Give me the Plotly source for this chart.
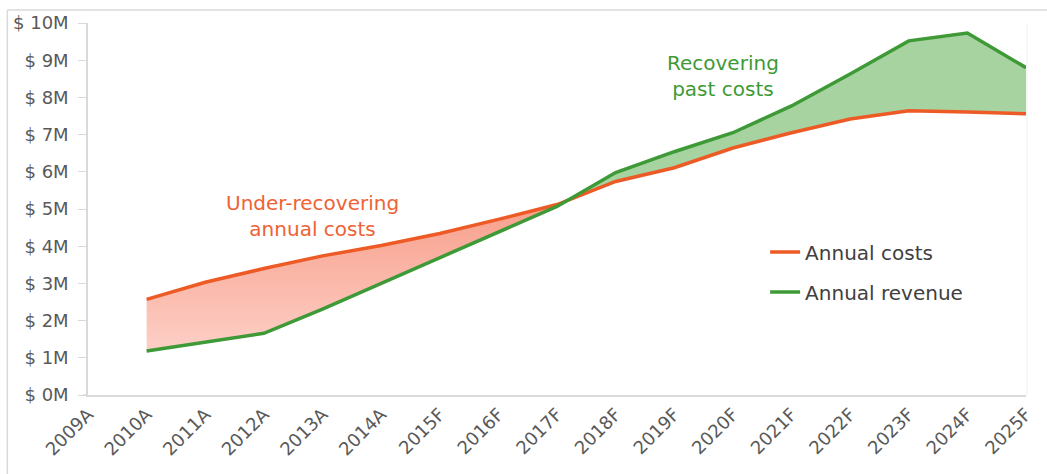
import plotly.graph_objects as go

# Category labels (A = actual, F = forecast)
years = ["2009A", "2010A", "2011A", "2012A", "2013A", "2014A", "2015F", "2016F",
         "2017F", "2018F", "2019F", "2020F", "2021F", "2022F", "2023F", "2024F", "2025F"]

# Values in $ millions, starting at 2010A
annual_costs = [2.57, 3.03, 3.40, 3.74, 4.02, 4.34, 4.72, 5.12,
                5.74, 6.11, 6.64, 7.05, 7.42, 7.64, 7.61, 7.56]
annual_revenue = [1.18, 1.42, 1.66, 2.31, 3.00, 3.67, 4.37, 5.07,
                  5.98, 6.54, 7.05, 7.77, 8.63, 9.52, 9.73, 8.80]

y_ticks = list(range(0, 11))
y_tick_text = [f"$ {v}M" for v in y_ticks]

COST_COLOR = "#EE5A26"
REV_COLOR = "#3E9A36"
FONT = "DejaVu Sans"

W, H = 1047, 474
ML, MR, MT, MB = 88, 17, 22, 79

xs = list(range(1, len(years)))

# Locate where revenue overtakes costs
cross_x = cross_y = None
cross_i = None
for i in range(len(xs) - 1):
    d0 = annual_costs[i] - annual_revenue[i]
    d1 = annual_costs[i + 1] - annual_revenue[i + 1]
    if d0 > 0 >= d1:
        t = d0 / (d0 - d1)
        cross_x = xs[i] + t
        cross_y = annual_costs[i] + t * (annual_costs[i + 1] - annual_costs[i])
        cross_i = i
        break

# Shortfall region: costs above revenue
under_x = xs[:cross_i + 1] + [cross_x] + xs[:cross_i + 1][::-1]
under_y = annual_costs[:cross_i + 1] + [cross_y] + annual_revenue[:cross_i + 1][::-1]

# Surplus region: revenue above costs
over_x = [cross_x] + xs[cross_i + 1:] + xs[cross_i + 1:][::-1]
over_y = [cross_y] + annual_revenue[cross_i + 1:] + annual_costs[cross_i + 1:][::-1]

fig = go.Figure()

fig.add_trace(go.Scatter(
    x=under_x, y=under_y, mode="none", fill="toself",
    fillgradient=dict(type="vertical",
                      colorscale=[[0, "rgb(253,207,198)"], [1, "rgb(248,158,138)"]]),
    showlegend=False, hoverinfo="skip",
))
fig.add_trace(go.Scatter(
    x=over_x, y=over_y, mode="none", fill="toself",
    fillcolor="rgb(167,211,160)",
    showlegend=False, hoverinfo="skip",
))

fig.add_trace(go.Scatter(
    x=xs, y=annual_costs, mode="lines", name="Annual costs",
    line=dict(color=COST_COLOR, width=3.5), legendgroup="c",
))
fig.add_trace(go.Scatter(
    x=xs, y=annual_revenue, mode="lines", name="Annual revenue",
    line=dict(color=REV_COLOR, width=3.5), legendgroup="r",
))

fig.add_annotation(
    x=3.83, y=4.8, xref="x", yref="y", showarrow=False,
    text="Under-recovering<br>annual costs", align="center",
    font=dict(family=FONT, size=20, color="#EE6234"),
)
fig.add_annotation(
    x=10.83, y=8.58, xref="x", yref="y", showarrow=False,
    text="Recovering<br>past costs", align="center",
    font=dict(family=FONT, size=20, color=REV_COLOR),
)

pw = W - ML - MR
ph = H - MT - MB
# Chart frame (left and top edges) and plot-area right edge
fig.add_shape(type="line", xref="paper", yref="paper",
              x0=(7 - ML) / pw, x1=(W + 5 - ML) / pw,
              y0=(H - MB - 9) / ph, y1=(H - MB - 9) / ph,
              line=dict(color="#D9D9D9", width=1.5))
fig.add_shape(type="line", xref="paper", yref="paper",
              x0=(7 - ML) / pw, x1=(7 - ML) / pw,
              y0=(H - MB - 9) / ph, y1=(H - MB - H - 5) / ph,
              line=dict(color="#D9D9D9", width=1.5))
fig.add_shape(type="line", xref="paper", yref="paper",
              x0=(1031 - ML) / pw, x1=(1031 - ML) / pw, y0=0, y1=1,
              line=dict(color="#F0F0F0", width=1))
# Axis line runs a little past the y axis on the left
fig.add_shape(type="line", xref="paper", yref="paper",
              x0=(83 - ML) / pw, x1=0, y0=0, y1=0,
              line=dict(color="#D9D9D9", width=1.5))

fig.update_layout(
    width=W, height=H,
    margin=dict(l=ML, r=MR, t=MT, b=MB),
    paper_bgcolor="white", plot_bgcolor="white",
    font=dict(family=FONT, color="#595959"),
    legend=dict(x=(768 - ML) / pw, y=(H - MB - 232) / ph, xanchor="left", yanchor="top",
                font=dict(family=FONT, size=20, color="#404040"),
                tracegroupgap=11, bgcolor="rgba(0,0,0,0)"),
    xaxis=dict(
        range=[0, len(years) - 1], tickmode="array",
        tickvals=list(range(len(years))), ticktext=years,
        tickangle=-45, tickfont=dict(size=18, color="#595959"),
        showgrid=False, zeroline=False, showline=True,
        linecolor="#D9D9D9", linewidth=1.5, ticks="",
    ),
    yaxis=dict(
        range=[0, 10], tickmode="array", tickvals=y_ticks, ticktext=y_tick_text,
        tickfont=dict(size=18, color="#595959"),
        showgrid=False, zeroline=False, showline=True,
        linecolor="#D9D9D9", linewidth=1.5,
        ticks="outside", ticklen=8, tickcolor="#D9D9D9",
        ticklabelstandoff=6,
    ),
)

fig.write_html("out.html")
